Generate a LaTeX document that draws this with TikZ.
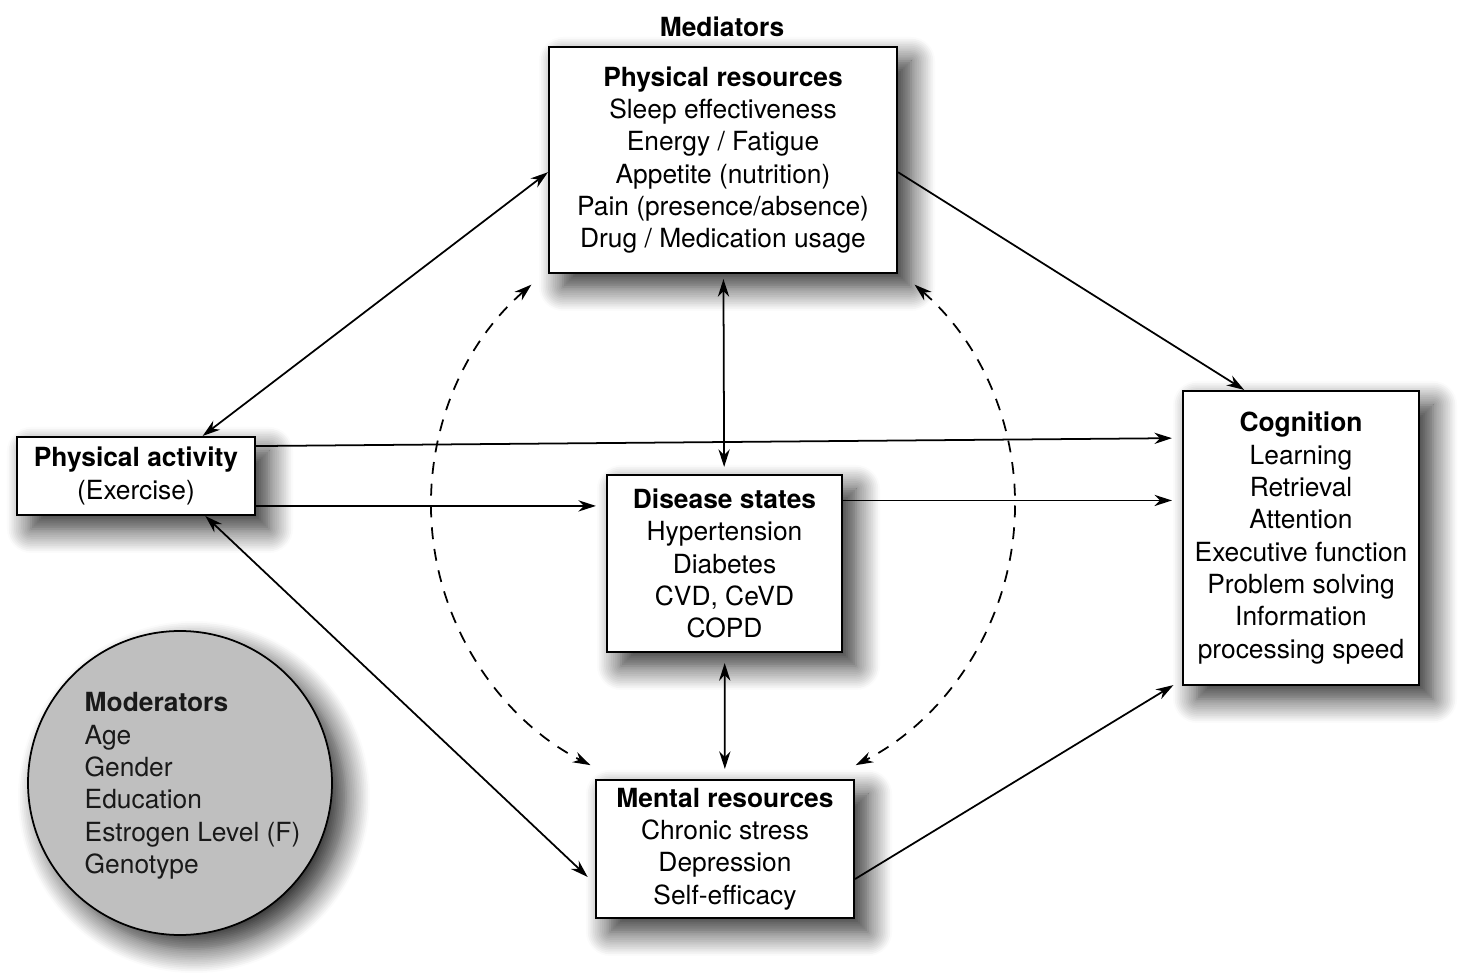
\documentclass[tikz,border=0pt]{standalone}
\usepackage{fontspec}
\setmainfont{TeX Gyre Heros}
\usetikzlibrary{%
    arrows.meta,
    calc,
    positioning,
    shadows,
    shadows.blur
}
\tikzset{headarrow/.style = {-{Stealth[length=5pt,width=3.2pt,inset=1.6pt]}, line width=.5pt}}
\tikzset{bothheadarrow/.style = {{Stealth[length=5pt,width=3.2pt,inset=1.6pt]}-{Stealth[length=5pt,width=3.2pt,inset=1.6pt]}, line width=.5pt}}
\tikzset{dashheadarrow/.style = {bothheadarrow, dash pattern=on 3.4pt off 2.8pt}}
\tikzset{fuzzy/.style = {blur shadow={shadow xshift=1.4mm, shadow yshift=-1.4mm, shadow blur radius=2.4mm, shadow opacity=85, shadow blur steps=14}}}
\tikzset{factor/.style = {draw, fill=white, line width=.6pt, align=center, inner sep=0pt, fuzzy, font=\fontsize{7.5}{9.2}\selectfont}}

\begin{document}
\begin{tikzpicture}
    \useasboundingbox (0,0) rectangle (14.61,9.73);

    \node[factor, minimum width=3.48cm, minimum height=2.26cm] (phys-res) at (7.23,8.13)
        {\textbf{Physical resources}\\Sleep effectiveness\\Energy / Fatigue\\Appetite (nutrition)\\Pain (presence/absence)\\Drug / Medication usage};
    \node[font=\fontsize{7.5}{9.2}\selectfont\bfseries] (mediators) at (7.22,9.46) {Mediators};
    \node[factor, minimum width=2.38cm, minimum height=.78cm] (phys-act) at (1.36,4.97)
        {\textbf{Physical activity}\\(Exercise)};
    \node[factor, minimum width=2.35cm, minimum height=1.77cm] (disease) at (7.245,4.095)
        {\textbf{Disease states}\\Hypertension\\Diabetes\\CVD, CeVD\\COPD};
    \node[factor, minimum width=2.36cm, minimum height=2.94cm] (cognition) at (13.01,4.35)
        {\textbf{Cognition}\\Learning\\Retrieval\\Attention\\Executive function\\Problem solving\\Information\\processing speed};
    \node[factor, minimum width=2.58cm, minimum height=1.38cm] (mental) at (7.25,1.24)
        {\textbf{Mental resources}\\Chronic stress\\Depression\\Self-efficacy};

    % moderators disc
    \node[circle, draw, line width=.5pt, fill=black!25, fuzzy, minimum size=3.04cm] (moderators) at (1.80,1.90) {};
    \node[anchor=west, align=left, inner sep=0pt, text=black!90, font=\fontsize{7.5}{9.2}\selectfont] (mod-list)
        at ([xshift=-.96cm, yshift=-.03cm]moderators.center)
        {\textbf{Moderators}\\Age\\Gender\\Education\\Estrogen Level (F)\\Genotype};

    \coordinate (hub) at (7.23,4.68);

    \draw[bothheadarrow] (phys-act.31) to (phys-res.184);
    \draw[headarrow] (phys-res.-4) to (cognition.111);
    \draw[headarrow, shorten >=1mm] (phys-act.14) to (cognition.140);
    \draw[headarrow, shorten >=1mm] (phys-act.-14) to (phys-act.-14 -| disease.west);
    \draw[headarrow, shorten >=1mm] (disease.28) to (disease.28 -| cognition.west);
    \draw[bothheadarrow, shorten >=1mm] (phys-act.-30) to (mental.195);
    \draw[headarrow, shorten >=1mm] (mental.-13) to (cognition.230);
    \draw[bothheadarrow, shorten <=.5mm, shorten >=.7mm] (phys-res) to (disease);
    \draw[bothheadarrow, shorten <=1mm, shorten >=1mm] (disease) to (mental);

    % dashed ring round the disease box
    \draw[dashheadarrow] ([shift={(131:2.92)}]hub) arc[start angle=131, end angle=243, radius=2.92];
    \draw[dashheadarrow] ([shift={(49:2.92)}]hub) arc[start angle=49, end angle=-63, radius=2.92];
\end{tikzpicture}
\end{document}
